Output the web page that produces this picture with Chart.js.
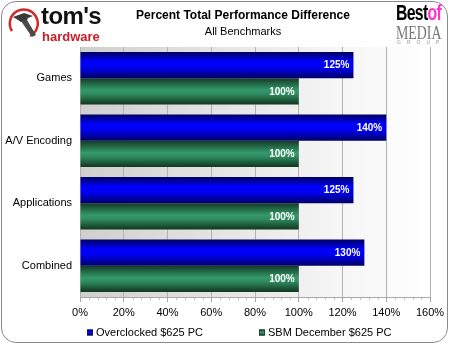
<!DOCTYPE html>
<html>
<head>
<meta charset="utf-8">
<script src="https://cdn.jsdelivr.net/npm/chart.js@4"></script>
<style>
  html, body { margin:0; padding:0; background:#fff; }
  #wrap { position:relative; width:450px; height:345px; overflow:hidden; font-family:"Liberation Sans", Arial, sans-serif; }
  #c { position:absolute; left:0; top:0; }
  #frame { position:absolute; left:1px; top:1px; width:445px; height:340px; border:1.5px solid #8a8a8a; border-radius:15px; pointer-events:none; }
  .abs { position:absolute; white-space:nowrap; line-height:1; }
</style>
</head>
<body>
<div id="wrap">
  <canvas id="c" width="450" height="345"></canvas>
  <div id="frame"></div>
  <!-- tom's hardware logo -->
  <svg class="abs" style="left:6px;top:5px" width="36" height="36" viewBox="0 0 36 36">
    <path d="M6 26 A14 14 0 1 1 24 31" fill="none" stroke="#d42a2a" stroke-width="2.5"/>
    <path d="M7 12 L18 8 L27 11 L22 13 L20 17 L15 17 L12 15 Z" fill="#3a3a3a"/>
    <path d="M15 16 L21 15 L30 30 L26 32 Z" fill="#4a4a4a"/>
  </svg>
  <div class="abs" style="left:41px;top:4px;font-size:24px;font-weight:bold;color:#111;letter-spacing:-0.6px">tom's</div>
  <div class="abs" style="left:42px;top:30px;font-size:13px;font-weight:bold;color:#c8202a">hardware</div>
  <!-- Best of Media logo -->
  <div class="abs" style="left:396px;top:2px;font-size:22px;font-weight:bold;letter-spacing:-1px;transform:scaleX(0.72);transform-origin:left top;"><span style="color:#000">Best</span><span style="color:#ff33cc">of</span></div>
  <div class="abs" style="left:396px;top:23px;font-family:'Liberation Serif',serif;font-size:19px;color:#777;transform:scaleX(0.73);transform-origin:left top;">MEDIA</div>
  <div class="abs" style="left:397px;top:40px;font-size:5px;color:#999;letter-spacing:6px;">GROUP</div>
</div>
<script>
const categories = ['Games', 'A/V Encoding', 'Applications', 'Combined'];
const overclocked = [125, 140, 125, 130];
const sbmDecember = [100, 100, 100, 100];
const seriesNames = ['Overclocked $625 PC', 'SBM December $625 PC'];
const xMax = 160;
const xStep = 20;
const titleText = 'Percent Total Performance Difference';
const subtitleText = 'All Benchmarks';

const CAT_PCT = 0.84;
const blueStops = [[0, '#000060'], [0.38, '#0000ff'], [0.6, '#0000ee'], [1, '#000064']];
const greenStops = [[0, '#143a25'], [0.45, '#33996a'], [0.6, '#2f8c60'], [1, '#12361f']];

function barGradient(ctx, stops) {
  const chart = ctx.chart;
  const yS = chart.scales && chart.scales.y;
  if (!yS || yS.bottom === undefined || ctx.dataIndex === undefined) return stops[1][1];
  const catW = (yS.bottom - yS.top) / categories.length;
  const bw = catW * CAT_PCT / 2;
  const center = yS.getPixelForValue(ctx.dataIndex);
  const top = center - catW * CAT_PCT / 2 + ctx.datasetIndex * bw;
  const g = chart.ctx.createLinearGradient(0, top, 0, top + bw);
  stops.forEach(s => g.addColorStop(s[0], s[1]));
  return g;
}

const decorPlugin = {
  id: 'decor',
  beforeDraw(chart) {
    const { ctx, chartArea: a } = chart;
    ctx.save();
    const g = ctx.createLinearGradient(a.left, 0, a.right, 0);
    g.addColorStop(0, '#cfcfcf');
    g.addColorStop(0.7, '#f4f4f4');
    g.addColorStop(1, '#ffffff');
    ctx.fillStyle = g;
    ctx.fillRect(a.left, a.top, a.right - a.left, a.bottom - a.top);
    ctx.restore();
  },
  afterDraw(chart) {
    const { ctx, chartArea: a } = chart;
    const xS = chart.scales.x;
    ctx.save();
    // minor ticks
    ctx.strokeStyle = '#c4c4c4';
    ctx.lineWidth = 1;
    for (let v = 0; v <= xMax; v += 4) {
      if (v % xStep === 0) continue;
      const px = Math.round(xS.getPixelForValue(v)) + 0.5;
      ctx.beginPath();
      ctx.moveTo(px, a.bottom + 1);
      ctx.lineTo(px, a.bottom + 3);
      ctx.stroke();
    }
    // title
    ctx.fillStyle = '#000';
    ctx.textAlign = 'center';
    ctx.textBaseline = 'middle';
    ctx.font = 'bold 12px "Liberation Sans", Arial, sans-serif';
    ctx.fillText(titleText, 243, 15.5);
    ctx.font = '11px "Liberation Sans", Arial, sans-serif';
    ctx.fillText(subtitleText, 243, 32);
    // value labels
    ctx.font = 'bold 10px "Liberation Sans", Arial, sans-serif';
    ctx.fillStyle = '#ffffff';
    ctx.textAlign = 'right';
    chart.data.datasets.forEach((ds, di) => {
      const meta = chart.getDatasetMeta(di);
      meta.data.forEach((el, i) => {
        ctx.fillText(ds.data[i] + '%', el.x - 4, el.y + 0.5);
      });
    });
    // legend
    const lx = [87, 259];
    const ly = 332.5;
    chart.data.datasets.forEach((ds, di) => {
      const stops = di === 0 ? blueStops : greenStops;
      const g = ctx.createLinearGradient(0, ly - 3, 0, ly + 3);
      stops.forEach(s => g.addColorStop(s[0], s[1]));
      ctx.fillStyle = g;
      ctx.fillRect(lx[di], ly - 3, 6, 6);
      ctx.strokeStyle = '#222';
      ctx.lineWidth = 0.6;
      ctx.strokeRect(lx[di] + 0.3, ly - 2.7, 5.4, 5.4);
      ctx.fillStyle = '#000';
      ctx.textAlign = 'left';
      ctx.font = '11px "Liberation Sans", Arial, sans-serif';
      ctx.fillText(ds.label, lx[di] + 9, ly);
    });
    ctx.restore();
  }
};

new Chart(document.getElementById('c'), {
  type: 'bar',
  data: {
    labels: categories,
    datasets: [
      { label: seriesNames[0], data: overclocked, backgroundColor: (c) => barGradient(c, blueStops) },
      { label: seriesNames[1], data: sbmDecember, backgroundColor: (c) => barGradient(c, greenStops) }
    ]
  },
  options: {
    indexAxis: 'y',
    responsive: false,
    animation: false,
    devicePixelRatio: 1,
    layout: { padding: { left: 0, right: 20, top: 47, bottom: 20 } },
    datasets: { bar: { categoryPercentage: CAT_PCT, barPercentage: 1.0, borderWidth: 0 } },
    plugins: {
      legend: { display: false },
      title: { display: false },
      tooltip: { enabled: false }
    },
    scales: {
      x: {
        min: 0, max: xMax,
        ticks: {
          stepSize: xStep,
          callback: (v) => v + '%',
          color: '#000',
          font: { family: '"Liberation Sans", Arial, sans-serif', size: 11 },
          padding: 4,
          maxRotation: 0
        },
        grid: { color: '#b2b2b2', tickColor: '#a8a8a8', tickLength: 5, lineWidth: 1 },
        border: { display: true, color: '#a8a8a8' },
        afterFit: (s) => { s.height = 28; }
      },
      y: {
        ticks: {
          color: '#000',
          font: { family: '"Liberation Sans", Arial, sans-serif', size: 11 },
          padding: 8
        },
        grid: { display: false, drawTicks: false },
        border: { display: false },
        afterFit: (s) => { s.width = 80; }
      }
    }
  },
  plugins: [decorPlugin]
});
</script>
</body>
</html>
